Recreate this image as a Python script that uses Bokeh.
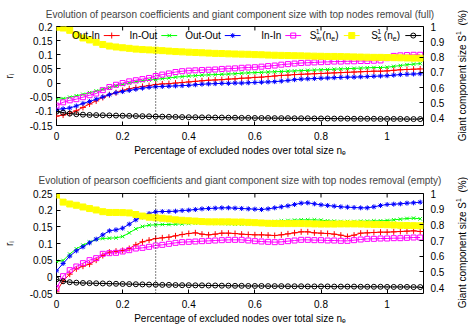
import math
from bokeh.plotting import figure
from bokeh.models import Range1d, LinearAxis, Span, FixedTicker, CustomJSTickFormatter, Div
from bokeh.layouts import column, row
from bokeh.embed import file_html
from bokeh.resources import INLINE
from bokeh.core.properties import value

FONT = "Liberation Sans"

# ---------------- data ----------------
X = [0.00, 0.02, 0.04, 0.06, 0.08, 0.10, 0.12, 0.14, 0.16, 0.18,
     0.20, 0.22, 0.24, 0.26, 0.28, 0.30, 0.32, 0.34, 0.36, 0.38,
     0.40, 0.42, 0.44, 0.46, 0.48, 0.50, 0.52, 0.54, 0.56, 0.58,
     0.60, 0.62, 0.64, 0.66, 0.68, 0.70, 0.72, 0.74, 0.76, 0.78,
     0.80, 0.82, 0.84, 0.86, 0.88, 0.90, 0.92, 0.94, 0.96, 0.98,
     1.00, 1.02, 1.04, 1.06, 1.08, 1.10]

FULL_OUT_IN = [-0.117, -0.113, -0.107, -0.098, -0.086, -0.074, -0.063, -0.051, -0.041, -0.034,
               -0.026, -0.020, -0.016, -0.012, -0.009, -0.005, -0.003, -0.002, 0.000, 0.002,
               0.004, 0.006, 0.008, 0.010, 0.011, 0.012, 0.014, 0.015, 0.017, 0.018,
               0.020, 0.021, 0.023, 0.025, 0.027, 0.028, 0.030, 0.031, 0.032, 0.033,
               0.034, 0.035, 0.036, 0.037, 0.038, 0.039, 0.040, 0.041, 0.042, 0.042,
               0.043, 0.045, 0.047, 0.048, 0.049, 0.050]
FULL_IN_OUT = [-0.057, -0.055, -0.050, -0.045, -0.040, -0.034, -0.028, -0.022, -0.016, -0.010,
               -0.005, 0.000, 0.005, 0.008, 0.011, 0.013, 0.016, 0.018, 0.021, 0.023,
               0.025, 0.026, 0.028, 0.029, 0.030, 0.031, 0.032, 0.033, 0.035, 0.036,
               0.037, 0.038, 0.039, 0.040, 0.041, 0.042, 0.043, 0.044, 0.045, 0.046,
               0.047, 0.048, 0.049, 0.050, 0.051, 0.052, 0.053, 0.054, 0.055, 0.055,
               0.056, 0.059, 0.062, 0.065, 0.067, 0.069]
FULL_OUT_OUT = [-0.093, -0.091, -0.088, -0.081, -0.072, -0.065, -0.057, -0.049, -0.041, -0.034,
                -0.030, -0.026, -0.022, -0.018, -0.015, -0.013, -0.012, -0.011, -0.010, -0.009,
                -0.008, -0.006, -0.004, -0.003, -0.002, -0.001, -0.001, 0.000, 0.000, 0.001,
                0.002, 0.003, 0.004, 0.005, 0.007, 0.009, 0.012, 0.014, 0.015, 0.016,
                0.017, 0.018, 0.019, 0.020, 0.021, 0.021, 0.022, 0.023, 0.024, 0.025,
                0.026, 0.028, 0.030, 0.031, 0.032, 0.033]
FULL_IN_IN = [-0.080, -0.068, -0.061, -0.057, -0.050, -0.043, -0.037, -0.025, -0.014, -0.006,
              0.000, 0.006, 0.010, 0.014, 0.018, 0.025, 0.030, 0.034, 0.039, 0.042,
              0.044, 0.045, 0.046, 0.047, 0.048, 0.050, 0.051, 0.052, 0.054, 0.055,
              0.056, 0.058, 0.060, 0.062, 0.065, 0.067, 0.069, 0.071, 0.072, 0.073,
              0.074, 0.075, 0.076, 0.076, 0.077, 0.077, 0.078, 0.078, 0.079, 0.080,
              0.088, 0.096, 0.098, 0.099, 0.100, 0.100]
FULL_SW = [0.995, 0.990, 0.975, 0.945, 0.925, 0.912, 0.897, 0.882, 0.872, 0.866,
           0.861, 0.857, 0.852, 0.849, 0.847, 0.845, 0.842, 0.839, 0.836, 0.834,
           0.832, 0.830, 0.828, 0.826, 0.824, 0.823, 0.821, 0.820, 0.819, 0.818,
           0.816, 0.815, 0.813, 0.812, 0.811, 0.810, 0.809, 0.808, 0.807, 0.806,
           0.805, 0.804, 0.804, 0.803, 0.802, 0.801, 0.800, 0.799, 0.798, 0.798,
           0.797, 0.796, 0.795, 0.794, 0.793, 0.793]
FULL_SS = [0.443, 0.436, 0.430, 0.426, 0.423, 0.421, 0.420, 0.419, 0.418, 0.417,
           0.416, 0.415, 0.414, 0.413, 0.412, 0.411, 0.410, 0.409, 0.408, 0.407,
           0.406, 0.406, 0.405, 0.405, 0.404, 0.404, 0.403, 0.403, 0.402, 0.402,
           0.401, 0.401, 0.401, 0.400, 0.400, 0.400, 0.399, 0.399, 0.399, 0.398,
           0.398, 0.398, 0.397, 0.397, 0.397, 0.396, 0.396, 0.396, 0.396, 0.395,
           0.395, 0.395, 0.395, 0.394, 0.394, 0.394]

EMPTY_OUT_IN = [-0.045, -0.012, 0.008, 0.024, 0.032, 0.038, 0.050, 0.064, 0.074, 0.077,
                0.079, 0.085, 0.096, 0.105, 0.110, 0.115, 0.117, 0.119, 0.123, 0.127,
                0.130, 0.132, 0.128, 0.126, 0.128, 0.131, 0.131, 0.130, 0.128, 0.127,
                0.126, 0.126, 0.125, 0.124, 0.126, 0.129, 0.132, 0.135, 0.135, 0.132,
                0.131, 0.130, 0.128, 0.125, 0.121, 0.125, 0.131, 0.132, 0.133, 0.134,
                0.134, 0.135, 0.136, 0.137, 0.138, 0.136]
EMPTY_IN_OUT = [0.046, 0.049, 0.068, 0.084, 0.095, 0.104, 0.112, 0.115, 0.116, 0.117,
                0.121, 0.132, 0.144, 0.151, 0.155, 0.156, 0.157, 0.157, 0.158, 0.159,
                0.160, 0.161, 0.161, 0.162, 0.161, 0.160, 0.159, 0.158, 0.158, 0.159,
                0.160, 0.162, 0.164, 0.166, 0.168, 0.169, 0.170, 0.171, 0.171, 0.171,
                0.170, 0.168, 0.167, 0.166, 0.166, 0.166, 0.167, 0.167, 0.168, 0.168,
                0.169, 0.171, 0.173, 0.175, 0.176, 0.174]
EMPTY_OUT_OUT = [0.018, 0.040, 0.062, 0.078, 0.090, 0.102, 0.113, 0.126, 0.138, 0.141,
                 0.146, 0.158, 0.171, 0.180, 0.190, 0.195, 0.196, 0.196, 0.197, 0.199,
                 0.200, 0.202, 0.204, 0.205, 0.206, 0.207, 0.207, 0.206, 0.205, 0.204,
                 0.203, 0.202, 0.204, 0.207, 0.210, 0.213, 0.217, 0.221, 0.222, 0.219,
                 0.216, 0.214, 0.212, 0.210, 0.209, 0.208, 0.207, 0.207, 0.210, 0.214,
                 0.217, 0.218, 0.219, 0.221, 0.222, 0.224]
EMPTY_IN_IN = [-0.034, 0.002, 0.020, 0.031, 0.041, 0.050, 0.056, 0.069, 0.071, 0.072,
               0.076, 0.080, 0.085, 0.087, 0.090, 0.094, 0.096, 0.099, 0.102, 0.104,
               0.105, 0.106, 0.107, 0.108, 0.109, 0.110, 0.111, 0.111, 0.111, 0.109,
               0.107, 0.106, 0.105, 0.104, 0.105, 0.107, 0.109, 0.111, 0.111, 0.110,
               0.110, 0.109, 0.109, 0.108, 0.108, 0.110, 0.112, 0.114, 0.114, 0.115,
               0.115, 0.116, 0.116, 0.117, 0.118, 0.118]
EMPTY_SW = [0.990, 0.945, 0.933, 0.925, 0.914, 0.904, 0.895, 0.884, 0.879, 0.879,
            0.878, 0.876, 0.866, 0.856, 0.849, 0.845, 0.842, 0.838, 0.832, 0.829,
            0.826, 0.824, 0.821, 0.819, 0.819, 0.819, 0.819, 0.818, 0.818, 0.816,
            0.814, 0.812, 0.810, 0.809, 0.808, 0.808, 0.808, 0.808, 0.807, 0.806,
            0.805, 0.805, 0.805, 0.806, 0.806, 0.806, 0.805, 0.804, 0.803, 0.802,
            0.801, 0.799, 0.797, 0.796, 0.795, 0.794]
EMPTY_SS = [0.452, 0.440, 0.434, 0.431, 0.429, 0.428, 0.427, 0.426, 0.425, 0.424,
            0.423, 0.422, 0.421, 0.420, 0.419, 0.418, 0.417, 0.417, 0.416, 0.415,
            0.415, 0.414, 0.414, 0.413, 0.413, 0.412, 0.412, 0.411, 0.411, 0.410,
            0.410, 0.410, 0.409, 0.409, 0.409, 0.408, 0.408, 0.408, 0.407, 0.407,
            0.407, 0.407, 0.406, 0.406, 0.406, 0.406, 0.405, 0.405, 0.405, 0.405,
            0.404, 0.404, 0.404, 0.404, 0.403, 0.403]

CUT = 0.3
X_TICKS = [0, 0.2, 0.4, 0.6, 0.8, 1.0]
S_TICKS = [0.4, 0.5, 0.6, 0.7, 0.8, 0.9, 1.0]
TOP_TICKS = [-0.15, -0.1, -0.05, 0, 0.05, 0.1, 0.15, 0.2]
BOT_TICKS = [-0.05, 0, 0.05, 0.1, 0.15, 0.2, 0.25]
LABELS = ["Out-In", "In-Out", "Out-Out", "In-In"]
TITLE_FULL = "Evolution of pearson coefficients and giant component size with top nodes removal (full)"
TITLE_EMPTY = "Evolution of pearson coefficients and giant component size with top nodes removal (empty)"
X_LABEL = "Percentage of excluded nodes over total size n\u2091"
Y_LABEL = "r\u1d62"
S_LABEL_HTML = "Giant component size S<sup style='font-size:7px'>1</sup>&nbsp;&nbsp;(%)"

# style: (color, marker, size, fill)
STYLES = [("#ff0000", "cross", 6, None),
          ("#00ff00", "x", 5, None),
          ("#0000ff", "asterisk", 5, None),
          ("#ff00ff", "square", 5, None),
          ("#ffff00", "square", 6, "#ffff00"),
          ("#000000", "circle_dot", 5, None)]

X_LO, X_HI = 0.0, 1.11
FRAME_W = 370.0
FRAME_H = 100.0
PX = (X_HI - X_LO) / FRAME_W
FIG_W = 454
SIDE_W = 14

fmt = CustomJSTickFormatter(code="return (Math.round(tick*1000)/1000).toString();")


def style_axis(ax):
    ax.major_tick_in = 4
    ax.major_tick_out = 0
    ax.minor_tick_in = 0
    ax.minor_tick_out = 0
    ax.axis_line_color = None
    ax.major_tick_line_color = "black"
    ax.major_label_text_font = FONT
    ax.major_label_text_font_size = "10px"
    ax.major_label_text_color = "black"
    ax.axis_label_text_font = FONT
    ax.axis_label_text_font_size = "10px"
    ax.axis_label_text_font_style = "normal"
    ax.axis_label_text_color = "black"
    ax.formatter = fmt


def side_label(height, center):
    html = ("<div style=\"height:%dpx;width:%dpx;display:flex;align-items:center;"
            "justify-content:center;overflow:visible;\">"
            "<span style=\"writing-mode:vertical-rl;transform:rotate(180deg);white-space:nowrap;"
            "font-family:'Liberation Sans';font-size:10px;color:black;line-height:12px;\">%s</span></div>"
            % (2 * center, SIDE_W, S_LABEL_HTML))
    return Div(text=html, width=SIDE_W, height=height, margin=0)


def panel(title, y_lo, y_hi, y_ticks, s_lo, series, height, top, bottom, legend_y, standoff):
    p = figure(width=FIG_W, height=height, output_backend="svg", toolbar_location=None,
               x_range=Range1d(X_LO, X_HI), y_range=Range1d(y_lo, y_hi),
               min_border_left=53, min_border_right=FIG_W - 53 - int(FRAME_W),
               min_border_top=top, min_border_bottom=bottom)
    p.extra_y_ranges = {"s": Range1d(s_lo, 1.0)}
    p.grid.visible = False
    p.outline_line_color = "black"
    p.outline_line_alpha = 1
    p.outline_line_width = 1
    p.background_fill_color = "white"
    p.border_fill_color = "white"
    p.title.text = title
    p.title.text_font = FONT
    p.title.text_font_size = "10px"
    p.title.text_font_style = "normal"
    p.title.align = "center"
    p.title.standoff = standoff

    xa = p.xaxis[0]
    xa.ticker = FixedTicker(ticks=X_TICKS)
    style_axis(xa)
    xa.axis_label = X_LABEL
    xa.major_label_standoff = 6
    xa.axis_label_standoff = 2

    ya = p.yaxis[0]
    ya.ticker = FixedTicker(ticks=y_ticks)
    style_axis(ya)
    ya.axis_label = Y_LABEL
    ya.major_label_standoff = 4
    ya.axis_label_standoff = 12

    ra = LinearAxis(y_range_name="s", ticker=FixedTicker(ticks=S_TICKS))
    style_axis(ra)
    ra.major_label_standoff = 7
    p.add_layout(ra, "right")

    # mirrored x ticks on the top border
    tick_len = 4 * (y_hi - y_lo) / FRAME_H
    p.segment(x0=X_TICKS, x1=X_TICKS, y0=[y_hi] * len(X_TICKS),
              y1=[y_hi - tick_len] * len(X_TICKS), line_color="black", line_width=1)

    p.add_layout(Span(location=CUT, dimension="height", line_color="black",
                      line_dash="1 2", line_width=1))

    for i, ys in enumerate(series):
        color, marker, size, fill = STYLES[i]
        kw = {"y_range_name": "s"} if i >= 4 else {}
        p.line(X, ys, line_color=color, line_width=1, **kw)
        p.scatter(X, ys, marker=marker, size=size, line_color=color,
                  fill_color=fill, line_width=1, **kw)

    if legend_y is not None:
        ends = [0.131, 0.305, 0.497, 0.680, 0.857, 1.043]
        for i, xe in enumerate(ends):
            color, marker, size, fill = STYLES[i]
            if i < 4:
                p.text(x=[xe], y=[legend_y], text=[LABELS[i]], text_align="right",
                       text_baseline="middle", text_font=value(FONT),
                       text_font_size="10px", text_color="black")
            else:
                sub = "w" if i == 4 else "s"
                pieces = [("S", 0, 0, "10px"), ("1", 6, -4, "7px"), (sub, 6.5, 3, "7px"),
                          ("(n", 12.5, 0, "10px"), ("e", 21.5, 3, "7px"), (")", 25.5, 0, "10px")]
                for t, dx, dy, fs in pieces:
                    p.text(x=[xe], y=[legend_y], text=[t], text_align="left",
                           text_baseline="middle", x_offset=dx - 30, y_offset=dy,
                           text_font=value(FONT), text_font_size=fs, text_color="black")
            p.segment(x0=[xe + 4 * PX], x1=[xe + 20 * PX], y0=[legend_y], y1=[legend_y],
                      line_color=color, line_width=1)
            p.scatter(x=[xe + 12 * PX], y=[legend_y], marker=marker, size=size,
                      line_color=color, fill_color=fill, line_width=1)
    return p


p1 = panel(TITLE_FULL, -0.15, 0.2, TOP_TICKS, 0.352,
           [FULL_OUT_IN, FULL_IN_OUT, FULL_OUT_OUT, FULL_IN_IN, FULL_SW, FULL_SS],
           163, 25, 38, 0.168, 13)
p2 = panel(TITLE_EMPTY, -0.05, 0.25, BOT_TICKS, 0.362,
           [EMPTY_OUT_IN, EMPTY_IN_OUT, EMPTY_OUT_OUT, EMPTY_IN_IN, EMPTY_SW, EMPTY_SS],
           164, 30, 34, None, 16)

layout = column(row(p1, side_label(163, 76), spacing=0),
                row(p2, side_label(164, 80), spacing=0), spacing=0)
open("out.html", "w").write(file_html(layout, INLINE))
